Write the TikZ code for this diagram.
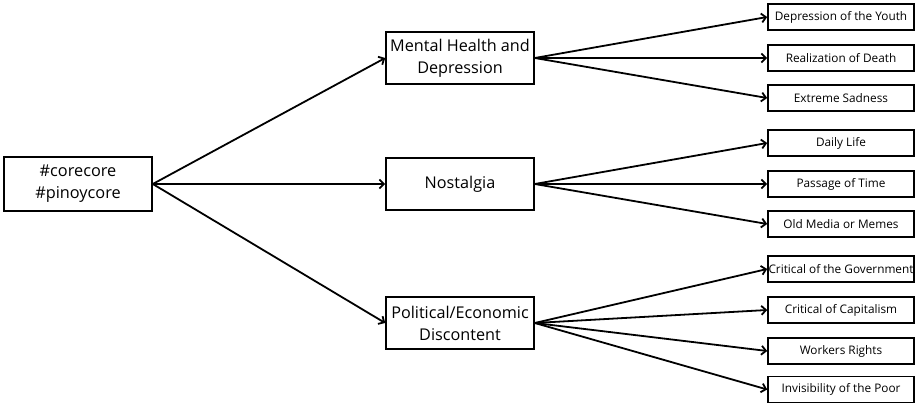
\documentclass[tikz,border=0pt]{standalone}
\usepackage{fontspec}
\setmainfont{Open Sans}
\usetikzlibrary{arrows.meta}
\begin{document}
\begin{tikzpicture}[x=1pt,y=-1pt,
 box/.style={draw,line width=1.6pt,inner sep=0pt,align=center,anchor=center},
 rootbox/.style={box,minimum width=148pt,minimum height=54pt,font=\fontsize{16.3}{22}\selectfont},
 midbox/.style={box,minimum width=148pt,minimum height=52pt,font=\fontsize{16.2}{22}\selectfont},
 leafbox/.style={box,minimum width=146pt,minimum height=26pt,font=\fontsize{11.8}{13}\selectfont},
 conn/.style={line width=1.8pt,-{Straight Barb[length=4.5pt,width=9pt,line width=1.8pt]}}]
\useasboundingbox (0,0) rectangle (916,403);
\node[rootbox] (root) at (78,184) {\#corecore\\\#pinoycore};
\node[midbox] (m1) at (460,58) {Mental Health and\\Depression};
\node[midbox] (m2) at (460,184) {Nostalgia};
\node[midbox] (m3) at (460,323) {Political/Economic\\Discontent};
\node[leafbox] (l1) at (841,17) {Depression of the Youth};
\node[leafbox] (l2) at (841,58) {Realization of Death};
\node[leafbox] (l3) at (841,98) {Extreme Sadness};
\node[leafbox] (l4) at (841,143) {Daily Life};
\node[leafbox] (l5) at (841,184) {Passage of Time};
\node[leafbox] (l6) at (841,224) {Old Media or Memes};
\node[leafbox] (l7) at (841,269) {Critical of the Government};
\node[leafbox] (l8) at (841,310) {Critical of Capitalism};
\node[leafbox] (l9) at (841,351) {Workers Rights};
\node[leafbox] (l10) at (841,389.5) {Invisibility of the Poor};
\foreach \m in {m1,m2,m3} \draw[conn] (root.east) -- (\m.west);
\foreach \l in {l1,l2,l3} \draw[conn] (m1.east) -- (\l.west);
\foreach \l in {l4,l5,l6} \draw[conn] (m2.east) -- (\l.west);
\foreach \l in {l7,l8,l9,l10} \draw[conn] (m3.east) -- (\l.west);
\end{tikzpicture}
\end{document}
